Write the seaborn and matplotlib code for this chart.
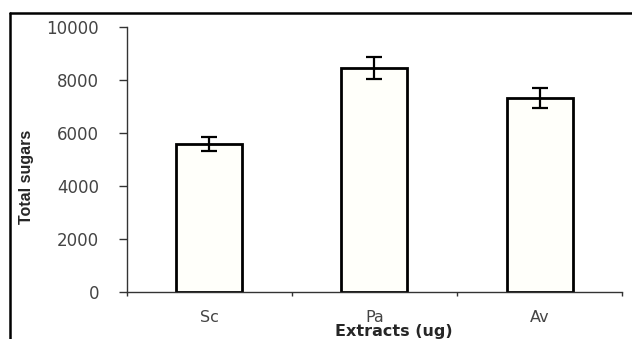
'''
Bar chart of total sugars per extract, with error bars
'''
import matplotlib
matplotlib.use('Agg')
import matplotlib.pyplot as plt
import seaborn           as sns
import pandas            as pnd
from matplotlib.lines import Line2D

extracts = ['Sc', 'Pa', 'Av']
sugars   = [5590, 8440, 7320]
errors   = [270, 420, 370]
# ----------------------
def main():
    sns.set_style('white')
    plt.rcParams['font.family'] = ['DejaVu Sans']

    fig = plt.figure(figsize=(6.32, 3.39), dpi=100)
    ax  = fig.add_axes([0.2009, 0.1386, 0.7833, 0.7818])

    df = pnd.DataFrame({'extract' : extracts, 'sugars' : sugars})
    sns.barplot(data=df, x='extract', y='sugars', ax=ax, width=0.4,
                color='#fffffa', edgecolor='black', linewidth=2.0,
                errorbar=None, saturation=1)
    ax.errorbar(x=range(len(extracts)), y=sugars, yerr=errors, fmt='none',
                ecolor='black', elinewidth=1.6, capsize=5.5, capthick=1.6)

    ax.set_xlim(-0.5, 2.5)
    ax.set_ylim(0, 10000)
    ax.set_yticks(range(0, 10001, 2000))
    ax.set_xticks([-0.5, 0.5, 1.5, 2.5], minor=True)
    ax.tick_params(axis='x', which='major', length=0, pad=13, labelsize=11.5, labelcolor='#444444')
    ax.tick_params(axis='x', which='minor', length=3, width=1, color='#333333', direction='out', bottom=True)
    ax.tick_params(axis='y', length=6, width=1, color='#333333', direction='out', left=True,
                   labelsize=12, labelcolor='#444444', pad=14)

    for side in ['top', 'right']:
        ax.spines[side].set_visible(False)
    for side in ['left', 'bottom']:
        ax.spines[side].set_color('#333333')
        ax.spines[side].set_linewidth(1.0)

    ax.set_ylabel('Total sugars', fontweight='bold', fontsize=11.5,
                  family=['Liberation Sans Narrow', 'Liberation Sans', 'DejaVu Sans'])
    ax.yaxis.set_label_coords(-0.188, 0.434)
    ax.set_xlabel('Extracts (ug)', fontweight='bold', fontsize=11.5)
    ax.xaxis.set_label_coords(0.54, -0.12)

    # outer frame, cut by the picture edges
    fig.add_artist(Line2D([10/632, 1.0], [1 - 13/339, 1 - 13/339], color='black', linewidth=1.8))
    fig.add_artist(Line2D([10/632, 10/632], [0.0, 1 - 13/339], color='black', linewidth=1.8))

    fig.savefig('out.png', dpi=100)
    plt.close(fig)
# ----------------------
if __name__ == '__main__':
    main()
